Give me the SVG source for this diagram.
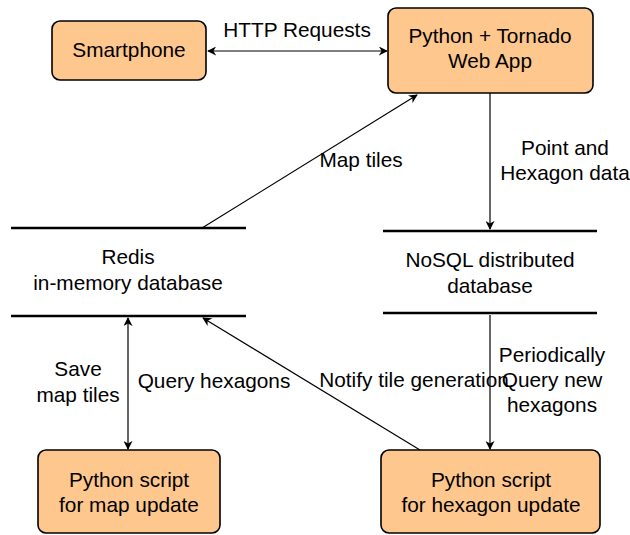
<svg xmlns="http://www.w3.org/2000/svg" width="630" height="535" viewBox="0 0 630 535">
  <style>
    .box { fill: #fdc78d; stroke: #000; stroke-width: 1.6; }
    .db { stroke: #000; stroke-width: 2.6; }
    .edge { stroke: #000; stroke-width: 1.2; fill: none; }
    text { font-family: "Liberation Sans", Arial, sans-serif; font-size: 20.8px; fill: #000; text-anchor: middle; }
  </style>
  <defs>
    <marker id="arr" viewBox="0 0 10 10" refX="9" refY="5" markerWidth="9" markerHeight="9" markerUnits="userSpaceOnUse" orient="auto-start-reverse">
      <path d="M0,0 L10,5 L0,10 L3,5 Z" fill="#000"/>
    </marker>
  </defs>

  <!-- connectors -->
  <g id="connectors">
    <line class="edge" x1="208" y1="51" x2="387" y2="51" marker-start="url(#arr)" marker-end="url(#arr)"/>
    <text x="297" y="37">HTTP Requests</text>

    <line class="edge" x1="202" y1="228" x2="417" y2="95" marker-end="url(#arr)"/>
    <text x="361" y="167">Map tiles</text>

    <line class="edge" x1="490" y1="93" x2="490" y2="229" marker-end="url(#arr)"/>
    <text x="565" y="155">Point and</text>
    <text x="565" y="180">Hexagon data</text>

    <line class="edge" x1="128" y1="318" x2="128" y2="449" marker-start="url(#arr)" marker-end="url(#arr)"/>
    <text x="78" y="376">Save</text>
    <text x="78" y="402">map tiles</text>
    <text x="214" y="388">Query hexagons</text>

    <line class="edge" x1="420" y1="450" x2="203" y2="318" marker-end="url(#arr)"/>
    <text x="414" y="387">Notify tile generation</text>

    <line class="edge" x1="490" y1="315" x2="490" y2="449" marker-end="url(#arr)"/>
    <text x="552" y="362">Periodically</text>
    <text x="552" y="387">Query new</text>
    <text x="552" y="412">hexagons</text>
  </g>

  <g id="smartphone">
    <rect class="box" x="52" y="21" width="154" height="59" rx="8"/>
    <text x="129" y="57">Smartphone</text>
  </g>

  <g id="webapp">
    <rect class="box" x="388" y="8" width="205" height="85" rx="8"/>
    <text x="490" y="43">Python + Tornado</text>
    <text x="490" y="68">Web App</text>
  </g>

  <g id="redis">
    <line class="db" x1="11" y1="228" x2="246" y2="228"/>
    <line class="db" x1="11" y1="316" x2="246" y2="316"/>
    <text x="128" y="264">Redis</text>
    <text x="128" y="290">in-memory database</text>
  </g>

  <g id="nosql">
    <line class="db" x1="383" y1="231" x2="597" y2="231"/>
    <line class="db" x1="383" y1="313" x2="597" y2="313"/>
    <text x="490" y="267">NoSQL distributed</text>
    <text x="490" y="293">database</text>
  </g>

  <g id="map-script">
    <rect class="box" x="38" y="450" width="182" height="83" rx="8"/>
    <text x="129" y="487">Python script</text>
    <text x="129" y="512">for map update</text>
  </g>

  <g id="hex-script">
    <rect class="box" x="381" y="450" width="219" height="83" rx="8"/>
    <text x="491" y="487">Python script</text>
    <text x="491" y="512">for hexagon update</text>
  </g>
</svg>
